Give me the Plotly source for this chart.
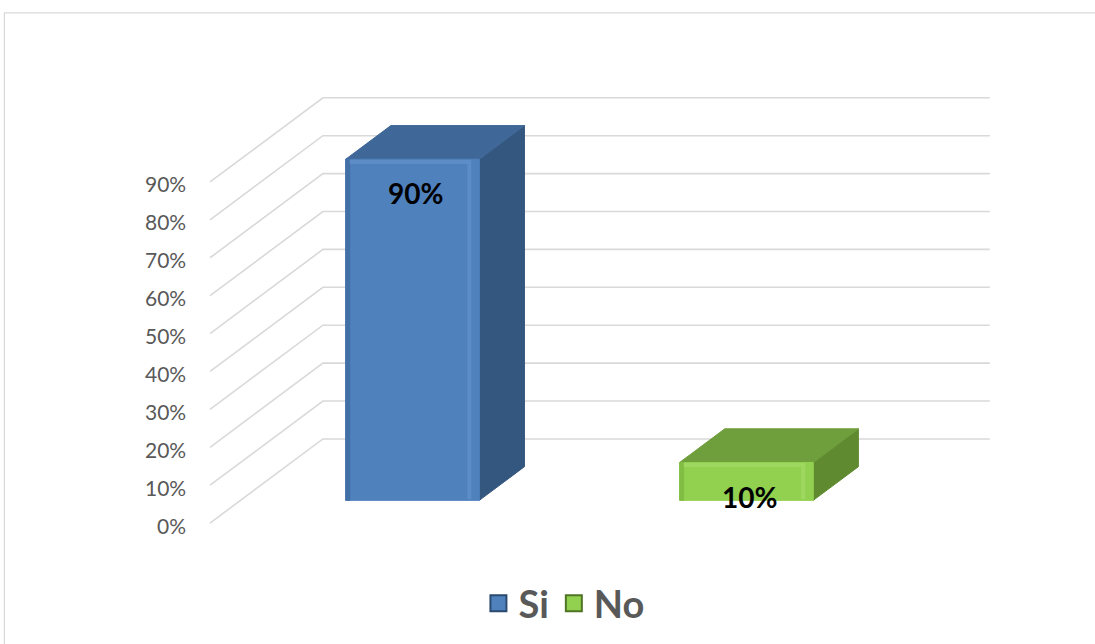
import plotly.graph_objects as go

# Data
categories = ["Si", "No"]
values = [90, 10]                     # percent
tick_values = [0, 10, 20, 30, 40, 50, 60, 70, 80, 90]
tick_labels = ["0%", "10%", "20%", "30%", "40%", "50%", "60%", "70%", "80%", "90%"]

# Colours per series: front, top, side, legend edge
front_colors = ["#4F81BD", "#92D050"]
top_colors = ["#3F6798", "#6F9E3C"]
side_colors = ["#34577F", "#5F8A30"]
edge_colors = ["#2B4A70", "#4F7424"]
highlight_colors = ["#6A98D0", "#ABE070"]
shade_colors = ["#3E6A9E", "#7AB63E"]

# Oblique 3-D projection: a depth of 1 shifts a point by (DX, DY) in data units
DX = 0.338
DY = 22.2
Z0, Z1 = 0.27, 0.67        # depth span occupied by the bars
BAR_W = 0.40               # bar width in category units
X_MIN, X_MAX = -0.515, len(categories) - 0.518

GRID = "#D9D9D9"
TEXT = "#595959"
FONT = "Lato"


def proj(x, y, z):
    return x + z * DX, y + z * DY


fig = go.Figure()

# Floor/wall gridlines: diagonal side wall plus back wall
for t in tick_values:
    p0 = proj(X_MIN, t, 0)
    p1 = proj(X_MIN, t, 1)
    p2 = proj(X_MAX, t, 1)
    fig.add_trace(go.Scatter(
        x=[p0[0], p1[0], p2[0]], y=[p0[1], p1[1], p2[1]],
        mode="lines", line=dict(color=GRID, width=1.6),
        hoverinfo="skip", showlegend=False))

# Y tick labels along the front edge of the side wall
for t, lab in zip(tick_values, tick_labels):
    fig.add_annotation(x=X_MIN, y=t, text=lab, showarrow=False,
                       xanchor="right", yanchor="middle", xshift=-22, yshift=-2,
                       font=dict(family=FONT, size=21, color=TEXT))


def poly(pts, color, line_color=None, opacity=1.0):
    xs = [p[0] for p in pts] + [pts[0][0]]
    ys = [p[1] for p in pts] + [pts[0][1]]
    fig.add_trace(go.Scatter(
        x=xs, y=ys, mode="lines", fill="toself", fillcolor=color,
        line=dict(color=line_color or color, width=1), opacity=opacity,
        hoverinfo="skip", showlegend=False))


for i, (cat, v) in enumerate(zip(categories, values)):
    xl, xr = i - BAR_W / 2, i + BAR_W / 2
    # side face
    poly([proj(xr, 0, Z0), proj(xr, 0, Z1), proj(xr, v, Z1), proj(xr, v, Z0)], side_colors[i])
    # top face
    poly([proj(xl, v, Z0), proj(xr, v, Z0), proj(xr, v, Z1), proj(xl, v, Z1)], top_colors[i])
    # front face
    poly([proj(xl, 0, Z0), proj(xr, 0, Z0), proj(xr, v, Z0), proj(xl, v, Z0)], front_colors[i])
    # soft darker band along the left edge of the front face
    poly([proj(xl, 0, Z0), proj(xl + 0.012, 0, Z0), proj(xl + 0.012, v, Z0), proj(xl, v, Z0)],
         shade_colors[i], opacity=0.7)
    # bevel highlights along the front top and right edges
    a = proj(xl + 0.012, v - 0.7, Z0)
    b = proj(xr - 0.03, v - 0.7, Z0)
    c = proj(xr - 0.03, 0.3, Z0)
    fig.add_trace(go.Scatter(x=[a[0], b[0], c[0]], y=[a[1], b[1], c[1]], mode="lines",
                             line=dict(color=highlight_colors[i], width=4),
                             opacity=0.55, hoverinfo="skip", showlegend=False))
    # data label on the front face
    lx, ly = proj(i, v, Z0)
    fig.add_annotation(x=lx + 0.01, y=ly - 9, text=f"{v}%", showarrow=False,
                       xanchor="center", yanchor="middle",
                       font=dict(family=FONT, size=28, color="#000000", weight="bold"))

# Legend entries
for i, cat in enumerate(categories):
    fig.add_trace(go.Scatter(
        x=[None], y=[None], mode="markers", name=cat,
        marker=dict(symbol="square", size=22, color=front_colors[i],
                    line=dict(color=edge_colors[i], width=2))))

fig.update_layout(
    width=1095, height=644,
    margin=dict(l=0, r=0, t=0, b=0),
    paper_bgcolor="white", plot_bgcolor="white",
    xaxis=dict(range=[-1.144, 2.135], visible=False, fixedrange=True),
    yaxis=dict(range=[-31.9, 138.0], visible=False, fixedrange=True),
    legend=dict(orientation="h", x=0.515, xanchor="center", y=0.063, yanchor="middle",
                font=dict(family=FONT, size=38, color=TEXT, weight="bold"),
                itemwidth=30, bgcolor="rgba(0,0,0,0)"),
    shapes=[dict(type="rect", xref="paper", yref="paper",
                 x0=0.004, x1=1.01, y0=-0.01, y1=0.98,
                 line=dict(color="#D9D9D9", width=1.2), fillcolor="rgba(0,0,0,0)",
                 layer="below")],
)

fig.write_html("out.html")
